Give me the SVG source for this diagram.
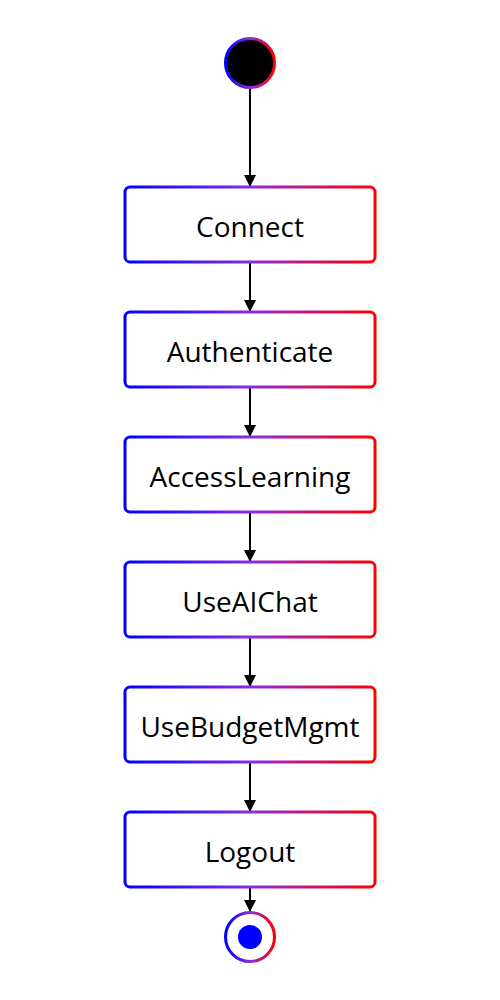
<svg xmlns="http://www.w3.org/2000/svg" width="500" height="1000" viewBox="0 0 500 1000">
<defs>
<linearGradient id="g" x1="0" y1="0" x2="1" y2="0" gradientUnits="objectBoundingBox">
<stop offset="0" stop-color="#0000ff"/>
<stop offset="0.5" stop-color="#8a2be2"/>
<stop offset="1" stop-color="#ff0000"/>
</linearGradient>
<marker id="arr" viewBox="0 0 10 10" refX="10" refY="5" markerWidth="12" markerHeight="12" markerUnits="userSpaceOnUse" orient="auto">
<path d="M0,0 L10,5 L0,10 z" fill="#000"/>
</marker>
</defs>
<style>
.box{fill:#fff;stroke:url(#g);stroke-width:3}
.lbl{font-family:"Open Sans","Noto Sans",sans-serif;font-size:28px;fill:#000;text-anchor:middle;dominant-baseline:central}
.edge{stroke:#000;stroke-width:2;fill:none;marker-end:url(#arr)}
</style>
<rect width="500" height="1000" fill="#fff"/>
<g id="connectors">
<line class="edge" x1="250" y1="88" x2="250" y2="187"/>
<line class="edge" x1="250" y1="262" x2="250" y2="312"/>
<line class="edge" x1="250" y1="387" x2="250" y2="437"/>
<line class="edge" x1="250" y1="512" x2="250" y2="562"/>
<line class="edge" x1="250" y1="637" x2="250" y2="687"/>
<line class="edge" x1="250" y1="762" x2="250" y2="812"/>
<line class="edge" x1="250" y1="887" x2="250" y2="912"/>
</g>
<g id="start"><circle cx="250" cy="63" r="24.5" fill="#000" stroke="url(#g)" stroke-width="3"/></g>
<g id="Connect"><rect class="box" x="125" y="187" width="250" height="75" rx="5"/><text class="lbl" x="250" y="226">Connect</text></g>
<g id="Authenticate"><rect class="box" x="125" y="312" width="250" height="75" rx="5"/><text class="lbl" x="250" y="351">Authenticate</text></g>
<g id="AccessLearning"><rect class="box" x="125" y="437" width="250" height="75" rx="5"/><text class="lbl" x="250" y="476">AccessLearning</text></g>
<g id="UseAIChat"><rect class="box" x="125" y="562" width="250" height="75" rx="5"/><text class="lbl" x="250" y="601">UseAIChat</text></g>
<g id="UseBudgetMgmt"><rect class="box" x="125" y="687" width="250" height="75" rx="5"/><text class="lbl" x="250" y="726">UseBudgetMgmt</text></g>
<g id="Logout"><rect class="box" x="125" y="812" width="250" height="75" rx="5"/><text class="lbl" x="250" y="851">Logout</text></g>
<g id="end"><circle cx="250" cy="937" r="24.5" fill="#fff" stroke="url(#g)" stroke-width="3"/><circle cx="250" cy="937" r="12" fill="#0000ff"/></g>
</svg>
